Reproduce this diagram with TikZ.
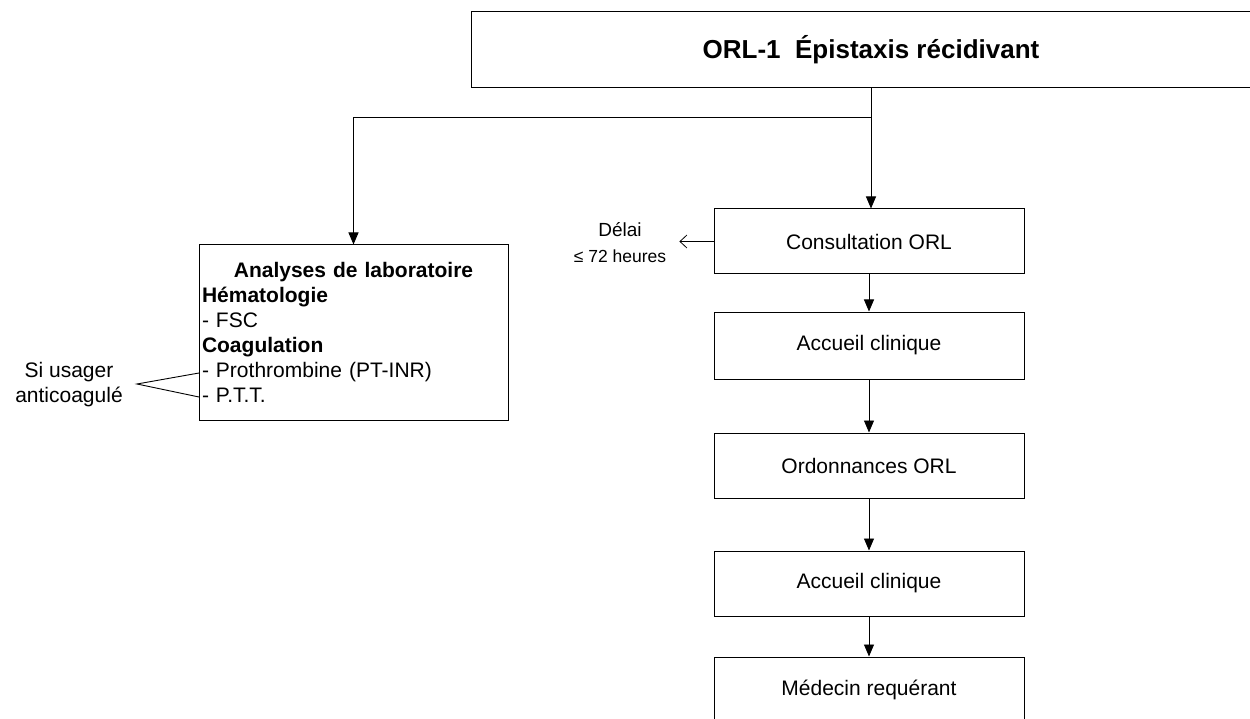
\documentclass[tikz,border=0pt]{standalone}
\usepackage{fontspec}
\setmainfont{Liberation Sans}
\usetikzlibrary{arrows.meta}
\begin{document}
\begin{tikzpicture}[x=1pt,y=-1pt,
  box/.style={draw, line width=1pt, minimum width=310pt, minimum height=65pt, inner sep=0pt, font=\fontsize{21}{25}\selectfont},
  conn/.style={line width=0.9pt, -{Triangle[width=10pt,length=12pt]}},
  plain/.style={line width=0.9pt},
  lbl/.style={align=center, inner sep=0pt}]
\useasboundingbox (0,0) rectangle (1250,719);
\clip (0,0) rectangle (1250,719);
\node (top) [draw, line width=1pt, minimum width=800pt, minimum height=76pt, inner sep=0pt,
  font=\fontsize{26}{30}\selectfont\bfseries] at (871,50) {ORL-1\ \ Épistaxis récidivant};
\node (cons) [box] at (869,241.5) {Consultation ORL};
\node (acc1) [box, minimum height=67pt] at (869,345.5) {Accueil clinique};
\node (ord) [box] at (869,465.5) {Ordonnances ORL};
\node (acc2) [box] at (869,583.5) {Accueil clinique};
\node (med) [box] at (869,689.5) {Médecin requérant};
\node (lab) [draw, line width=1pt, minimum width=309pt, minimum height=175pt, text width=303pt,
  inner sep=3pt, align=left, font=\fontsize{21}{25}\selectfont] at (353.5,332.5)
  {{\centering\textbf{Analyses de laboratoire}\par}
   \textbf{Hématologie}\\
   - FSC\\
   \textbf{Coagulation}\\
   - Prothrombine (PT-INR)\\
   - P.T.T.};
\node (delai) [lbl, font=\fontsize{19}{26}\selectfont] at (620,243) {Délai\\{\fontsize{17.5}{20}\selectfont ≤ 72 heures}};
\node (si) [lbl, font=\fontsize{21}{25}\selectfont] at (69,384.5) {Si usager\\anticoagulé};
\coordinate (split) at (871,117);
\coordinate (tip) at (137,384);
\coordinate (pa) at (199,373);
\coordinate (pb) at (199,397);
\draw[conn] (top.south -| split) -- (cons.north -| split);
\draw[plain] (split) -| (lab.north) ;
\draw[conn] (353.5,200) -- (lab.north);
\draw[conn] (cons) -- (acc1);
\draw[conn] (acc1) -- (ord);
\draw[conn] (ord) -- (acc2);
\draw[conn] (acc2) -- (med);
\draw[line width=0.8pt, -{Straight Barb[width=13pt,length=7pt]}] (cons.west) -- ([xshift=13pt]delai.east |- cons.west);
\draw[plain] (pa) -- (tip) -- (pb);
\end{tikzpicture}
\end{document}
